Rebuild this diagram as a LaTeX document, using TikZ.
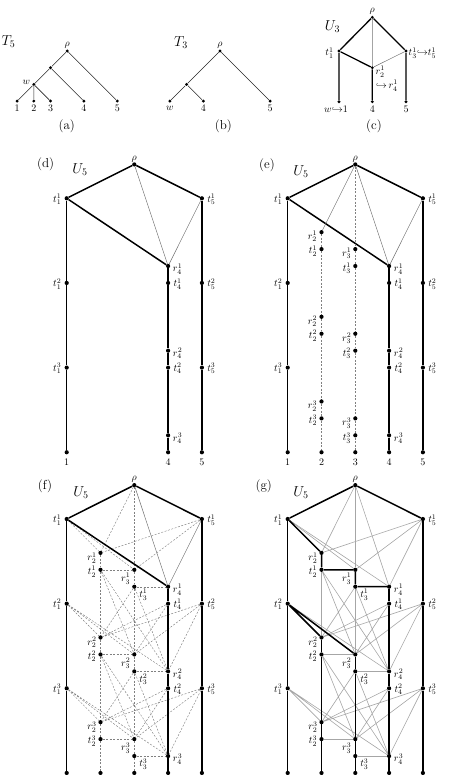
\documentclass[tikz,border=0pt]{standalone}
\usepackage{amsmath,amssymb}
\pgfdeclarelayer{bg}
\pgfsetlayers{bg,main}
\def\CX{33.8}
\def\RY{16.93}
\newcommand\outernodes[3]{%
  \node[dot] (#1-rho) at ({#2+2*\CX},{#3-2*\RY}) {};
  \foreach \k in {1,2,3}{
    \node[dot] (#1-t1-\k) at ({#2},{#3+5*(\k-1)*\RY}) {};
    \node[dot] (#1-t5-\k) at ({#2+4*\CX},{#3+5*(\k-1)*\RY}) {};
    \node[dot] (#1-r4-\k) at ({#2+3*\CX},{#3+(5*(\k-1)+4)*\RY}) {};
  }
  \foreach \k in {1,2}{
    \node[dot] (#1-t4-\k) at ({#2+3*\CX},{#3+(5*\k)*\RY}) {};
  }
  \foreach \i in {1,4,5}{
    \node[dot] (#1-L\i) at ({#2+(\i-1)*\CX},{#3+15*\RY}) {};
  }
}
\newcommand\midnodes[3]{%
  \foreach \k in {1,2,3}{
    \node[dot] (#1-r2-\k) at ({#2+\CX},{#3+(5*(\k-1)+2)*\RY}) {};
    \node[dot] (#1-t2-\k) at ({#2+\CX},{#3+(5*(\k-1)+3)*\RY}) {};
    \node[dot] (#1-r3-\k) at ({#2+2*\CX},{#3+(5*(\k-1)+3)*\RY}) {};
    \node[dot] (#1-t3-\k) at ({#2+2*\CX},{#3+(5*(\k-1)+4)*\RY}) {};
  }
  \foreach \i in {2,3}{
    \node[dot] (#1-L\i) at ({#2+(\i-1)*\CX},{#3+15*\RY}) {};
  }
}
\newcommand\outerlabels[1]{%
  \node[lab,anchor=south] at ([shift={(0,-2)}]#1-rho) {$\rho$};
  \foreach \k in {1,2,3}{
    \node[lab] at ([shift={(-9.5,1)}]#1-t1-\k) {$t_1^{\k}$};
    \node[lab] at ([shift={(9.5,1)}]#1-t5-\k) {$t_5^{\k}$};
    \node[lab] at ([shift={(9.5,3)}]#1-r4-\k) {$r_4^{\k}$};
  }
  \foreach \k in {1,2}{\node[lab] at ([shift={(9.5,1)}]#1-t4-\k) {$t_4^{\k}$};}
}
\newcommand\midlabelsE[1]{%
  \foreach \k in {1,2,3}{
    \node[lab] at ([shift={(-9,4.5)}]#1-r2-\k) {$r_2^{\k}$};
    \node[lab] at ([shift={(-8.5,2)}]#1-t2-\k) {$t_2^{\k}$};
    \node[lab] at ([shift={(-8.5,4.5)}]#1-r3-\k) {$r_3^{\k}$};
    \node[lab] at ([shift={(-8.5,2.5)}]#1-t3-\k) {$t_3^{\k}$};
  }
}
\newcommand\midlabelsF[1]{%
  \foreach \k in {1,2,3}{
    \node[lab] at ([shift={(-8.5,5)}]#1-r2-\k) {$r_2^{\k}$};
    \node[lab] at ([shift={(-8.5,2)}]#1-t2-\k) {$t_2^{\k}$};
    \node[lab] at ([shift={(-8.5,9)}]#1-r3-\k) {$r_3^{\k}$};
    \node[lab] at ([shift={(9,8)}]#1-t3-\k) {$t_3^{\k}$};
  }
}
\newcommand\uthree[1]{%
  \draw[thk] (#1-t1-1) -- (#1-rho) -- (#1-t5-1);
  \draw[thk] (#1-t1-1)--(#1-t1-2)--(#1-t1-3)--(#1-L1);
  \draw[thk] (#1-t5-1)--(#1-t5-2)--(#1-t5-3)--(#1-L5);
  \draw[thk] (#1-r4-1)--(#1-t4-1)--(#1-r4-2)--(#1-t4-2)--(#1-r4-3)--(#1-L4);
}
\newcommand\midcols[2]{%
  \draw[#2] (#1-r2-1)--(#1-t2-1)--(#1-r2-2)--(#1-t2-2)--(#1-r2-3)--(#1-t2-3)--(#1-L2);
  \draw[#2] (#1-r3-1)--(#1-t3-1)--(#1-r3-2)--(#1-t3-2)--(#1-r3-3)--(#1-t3-3)--(#1-L3);
  \draw[#2] (#1-rho)--(#1-r3-1);
}
\newcommand\netedges[2]{%
  \foreach \k in {1,2,3}{
    \draw[#2] (#1-t2-\k)--(#1-r3-\k) (#1-t3-\k)--(#1-r4-\k);
  }
  \draw[#2] (#1-rho)--(#1-r2-1) (#1-t1-1)--(#1-r2-1) (#1-t1-1)--(#1-r3-1)
            (#1-t5-1)--(#1-r2-1) (#1-t5-1)--(#1-r3-1);
  \foreach \k/\p in {2/1,3/2}{
    \draw[#2] (#1-t1-\k)--(#1-r2-\k) (#1-t1-\k)--(#1-r3-\k) (#1-t1-\k)--(#1-r4-\k)
              (#1-t5-\k)--(#1-r2-\k) (#1-t5-\k)--(#1-r3-\k) (#1-t5-\k)--(#1-r4-\k)
              (#1-t2-\p)--(#1-r3-\k) (#1-t2-\p)--(#1-r4-\k)
              (#1-t3-\p)--(#1-r2-\k) (#1-t3-\p)--(#1-r4-\k)
              (#1-t4-\p)--(#1-r2-\k) (#1-t4-\p)--(#1-r3-\k);
  }
}
\begin{document}
\begin{tikzpicture}[x=1pt,y=-1pt,
  dot/.style={circle,fill=black,inner sep=0pt,minimum size=4.2pt},
  sdot/.style={circle,fill=black,inner sep=0pt,minimum size=3.2pt},
  thk/.style={line width=1.5pt,black},
  thn/.style={line width=0.5pt,black!55},
  dsh/.style={line width=0.45pt,black!50,dash pattern=on 2pt off 1.5pt},
  gry/.style={line width=0.6pt,black!35},
  tl/.style={line width=0.6pt,black!85},
  ctk/.style={line width=1.3pt,black},
  lab/.style={inner sep=0pt,font=\normalsize},
  ttl/.style={inner sep=0pt,font=\fontsize{14}{16}\selectfont},
  pl/.style={inner sep=0pt,font=\fontsize{13}{15}\selectfont},
]
\useasboundingbox (0,0) rectangle (474,775);

% ---------- (a) ----------
\node[sdot] (a-rho) at (67.2,51) {};
\node[sdot] (a-u) at (50.5,67.7) {};
\node[sdot] (a-w) at (33.8,84.4) {};
\node[sdot] (a-1) at (17.1,101.1) {};
\node[sdot] (a-2) at (33.8,101.1) {};
\node[sdot] (a-3) at (50.5,101.1) {};
\node[sdot] (a-4) at (83.9,101.1) {};
\node[sdot] (a-5) at (117.3,101.1) {};
\begin{pgfonlayer}{bg}
\draw[tl] (a-5)--(a-rho)--(a-u)--(a-w)--(a-1) (a-w)--(a-2) (a-w)--(a-3) (a-u)--(a-4);
\end{pgfonlayer}
\node[lab,anchor=south] at ([shift={(0,-2.5)}]a-rho) {$\rho$};
\node[lab] at ([shift={(-7.5,-2.5)}]a-w) {$w$};
\foreach \i in {1,...,5}{\node[lab] at ([shift={(0,7.5)}]a-\i) {$\i$};}
\node[ttl] (a-T) at (8.5,41.7) {$T_5$};
\node[pl] (a-cap) at (66.7,126) {(a)};

% ---------- (b) ----------
\node[sdot] (b-rho) at (220,51) {};
\node[sdot] (b-u) at (186.6,84.4) {};
\node[sdot] (b-w) at (169.9,101.1) {};
\node[sdot] (b-4) at (203.3,101.1) {};
\node[sdot] (b-5) at (270.1,101.1) {};
\begin{pgfonlayer}{bg}
\draw[tl] (b-5)--(b-rho)--(b-u)--(b-w) (b-u)--(b-4);
\end{pgfonlayer}
\node[lab,anchor=south] at ([shift={(0,-2.5)}]b-rho) {$\rho$};
\node[lab] at ([shift={(0,7.5)}]b-w) {$w$};
\node[lab] at ([shift={(0,7.5)}]b-4) {$4$};
\node[lab] at ([shift={(0,7.5)}]b-5) {$5$};
\node[ttl] (b-T) at (181,42.7) {$T_3$};
\node[pl] (b-cap) at (223.3,126) {(b)};

% ---------- (c) ----------
\node[sdot] (c-rho) at (372.3,17.3) {};
\node[sdot] (c-t1) at (339,51) {};
\node[sdot] (c-t3) at (406,51) {};
\node[sdot] (c-r2) at (372.3,67.7) {};
\node[sdot] (c-L1) at (339,101.7) {};
\node[sdot] (c-L4) at (372.3,101.7) {};
\node[sdot] (c-L5) at (406,101.7) {};
\begin{pgfonlayer}{bg}
\draw[ctk] (c-t1)--(c-rho)--(c-t3) (c-t1)--(c-r2) (c-t1)--(c-L1) (c-r2)--(c-L4) (c-t3)--(c-L5);
\draw[thn] (c-rho)--(c-r2)--(c-t3);
\end{pgfonlayer}
\node[lab,anchor=south] at ([shift={(0,-2.5)}]c-rho) {$\rho$};
\node[lab] at ([shift={(-9.5,2)}]c-t1) {$t_1^1$};
\node[lab,anchor=west] at ([shift={(2.5,2)}]c-t3) {$t_3^1{\hookrightarrow}t_5^1$};
\node[lab] at ([shift={(8,4)}]c-r2) {$r_2^1$};
\node[lab] at ([shift={(14.5,18)}]c-r2) {${\hookrightarrow}\,r_4^1$};
\node[lab] at ([shift={(-3,7.8)}]c-L1) {$w{\hookrightarrow}1$};
\node[lab] at ([shift={(0,7.8)}]c-L4) {$4$};
\node[lab] at ([shift={(0,7.8)}]c-L5) {$5$};
\node[ttl] (c-U) at (332.5,26.7) {$U_3$};
\node[pl] (c-cap) at (374,126) {(c)};

% ---------- (d) ----------
\outernodes{d}{66.7}{198.3}
\begin{pgfonlayer}{bg}
\uthree{d}
\draw[thk] (d-t1-1)--(d-r4-1);
\draw[thn] (d-rho)--(d-r4-1) (d-t5-1)--(d-r4-1);
\end{pgfonlayer}
\outerlabels{d}
\foreach \i in {1,4,5}{\node[lab] at ([shift={(0,10.5)}]d-L\i) {$\i$};}
\node[pl] (d-cap) at (45.7,164.3) {(d)};
\node[ttl] (d-U) at (80,170) {$U_5$};

% ---------- (e) ----------
\outernodes{e}{287.7}{198.3}
\midnodes{e}{287.7}{198.3}
\begin{pgfonlayer}{bg}
\uthree{e}
\draw[thk] (e-t1-1)--(e-r4-1);
\draw[thn] (e-rho)--(e-r4-1) (e-t5-1)--(e-r4-1) (e-rho)--(e-r2-1);
\midcols{e}{dsh}
\end{pgfonlayer}
\outerlabels{e}
\midlabelsE{e}
\foreach \i in {1,...,5}{\node[lab] at ([shift={(0,10.5)}]e-L\i) {$\i$};}
\node[pl] (e-cap) at (267,165) {(e)};
\node[ttl] (e-U) at (301,171.7) {$U_5$};

% ---------- (f) ----------
\outernodes{f}{66.7}{519}
\midnodes{f}{66.7}{519}
\begin{pgfonlayer}{bg}
\midcols{f}{dsh}
\netedges{f}{dsh}
\draw[thn] (f-rho)--(f-r4-1) (f-t5-1)--(f-r4-1);
\uthree{f}
\draw[thk] (f-t1-1)--(f-r4-1);
\end{pgfonlayer}
\outerlabels{f}
\midlabelsF{f}
\node[pl] (f-cap) at (45,486) {(f)};
\node[ttl] (f-U) at (81,492.7) {$U_5$};

% ---------- (g) ----------
\outernodes{g}{287.7}{519}
\midnodes{g}{287.7}{519}
\begin{pgfonlayer}{bg}
\midcols{g}{gry}
\netedges{g}{gry}
\draw[gry] (g-rho)--(g-r4-1) (g-t5-1)--(g-r4-1) (g-t1-1)--(g-r4-1);
\uthree{g}
\draw[thk] (g-t1-1)--(g-r2-1)--(g-t2-1)--(g-r3-1)--(g-t3-1)--(g-r4-1);
\draw[thk] (g-t1-2)--(g-r2-2) (g-t1-2)--(g-r3-2);
\draw[thk] (g-r2-2)--(g-t2-2)--(g-r2-3)--(g-t2-3)--(g-L2);
\draw[thk] (g-r3-2)--(g-t3-2)--(g-r3-3)--(g-t3-3)--(g-L3);
\end{pgfonlayer}
\outerlabels{g}
\midlabelsF{g}
\node[pl] (g-cap) at (263.7,486) {(g)};
\node[ttl] (g-U) at (301,492.7) {$U_5$};
\end{tikzpicture}
\end{document}
